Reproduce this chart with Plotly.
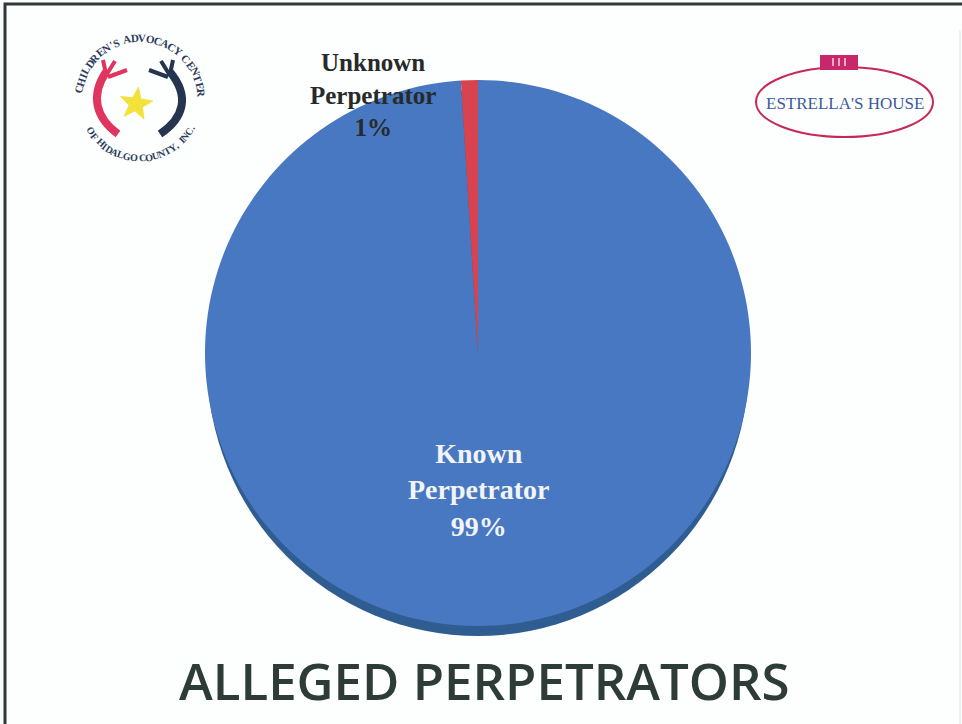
import math
import plotly.graph_objects as go

# Pie data
labels = ["Known Perpetrator", "Unknown Perpetrator"]
values = [99, 1]
slice_colors = ["#4878c1", "#d8434f"]

title_text = "ALLEGED PERPETRATORS"
logo_top_text = "CHILDREN'S ADVOCACY CENTER"
logo_bottom_text = "OF HIDALGO COUNTY, INC."
house_text = "ESTRELLA'S HOUSE"

W, H = 962, 724
cx, cy, r = 478, 353, 273

total = sum(values)
pcts = [round(100 * v / total) for v in values]

fig = go.Figure()

# pixel-space helper axis for decoration
fig.add_trace(go.Scatter(x=[0, W], y=[0, H], mode="markers",
                         marker=dict(opacity=0), hoverinfo="skip", showlegend=False))

fig.add_trace(go.Pie(
    labels=labels, values=values, sort=False, direction="clockwise", rotation=0,
    marker=dict(colors=slice_colors, line=dict(width=0)),
    textinfo="none", hoverinfo="label+percent", showlegend=False,
    domain=dict(x=[(cx - r) / W, (cx + r) / W], y=[1 - (cy + r) / H, 1 - (cy - r) / H]),
))

shapes = []
annotations = []

# darker rim under the pie for depth
shapes.append(dict(type="circle", xref="x", yref="y", layer="below",
                   x0=cx - r + 2, x1=cx + r - 2, y0=cy - r + 10, y1=cy + r + 10,
                   fillcolor="#2f5d92", line=dict(width=0)))

# slide border
shapes.append(dict(type="path", xref="x", yref="y", path=f"M 5 {H} L 5 4 L {W} 4",
                   line=dict(color="#2c3a38", width=3)))
shapes.append(dict(type="line", xref="x", yref="y", x0=960, x1=960, y0=30, y1=H,
                   line=dict(color="#dde1e1", width=1)))

# slice labels
annotations.append(dict(
    x=478, y=490, xref="x", yref="y", showarrow=False,
    text=f"<b>{labels[0].replace(' ', '<br>')}<br>{pcts[0]}%</b>",
    font=dict(family="Liberation Serif", size=28, color="#f2f4f8"), align="center"))
annotations.append(dict(
    x=373, y=95, xref="x", yref="y", showarrow=False,
    text=f"<b>{labels[1].replace(' ', '<br>')}<br>{pcts[1]}%</b>",
    font=dict(family="Liberation Serif", size=25, color="#262a2a"), align="center"))

# title
annotations.append(dict(
    x=484, y=680, xref="x", yref="y", showarrow=False, text=title_text,
    font=dict(family="Open Sans", size=51, weight=600, color="#2e3c38")))


def char_weight(ch):
    if ch in " '.,":
        return 0.45
    if ch in "I":
        return 0.6
    return 1.0


def arc_text(text, a_start, a_end, radius, upright_bottom, size):
    ws = [char_weight(c) for c in text]
    steps = [(ws[i] + ws[i + 1]) / 2 for i in range(len(text) - 1)]
    tot = sum(steps)
    acc = 0.0
    for i, ch in enumerate(text):
        th = a_start + (a_end - a_start) * acc / tot
        if i < len(steps):
            acc += steps[i]
        if ch == " ":
            continue
        t = math.radians(th)
        annotations.append(dict(
            x=lx + radius * math.cos(t), y=ly - radius * math.sin(t),
            xref="x", yref="y", showarrow=False, text=f"<b>{ch}</b>",
            textangle=(270 - th) if upright_bottom else (90 - th),
            font=dict(family="Liberation Serif", size=size, color=navy)))


# ---- left logo: circular lettering, two figures and a star ----
lx, ly = 140, 100
navy = "#2b3b5c"
arc_text(logo_top_text, 170, 6, 62, False, 11)
arc_text(logo_bottom_text, 212, 332, 58, True, 10)

# red figure
shapes.append(dict(type="path", xref="x", yref="y",
                   path="M 118 134 C 96 118, 90 96, 106 72",
                   line=dict(color="#e0355f", width=8)))
shapes.append(dict(type="path", xref="x", yref="y",
                   path="M 106 74 L 103 60 M 107 74 L 115 61 M 108 77 L 127 70",
                   line=dict(color="#e0355f", width=4)))
# navy figure
shapes.append(dict(type="path", xref="x", yref="y",
                   path="M 160 134 C 184 118, 190 96, 170 72",
                   line=dict(color="#25344f", width=8)))
shapes.append(dict(type="path", xref="x", yref="y",
                   path="M 170 74 L 173 60 M 169 74 L 161 61 M 168 77 L 149 70",
                   line=dict(color="#25344f", width=4)))
# star
pts = []
for k in range(10):
    rad = 17 if k % 2 == 0 else 7
    ang = math.radians(-90 + 36 * k + 8)
    pts.append((136 + rad * math.cos(ang), 104 + rad * math.sin(ang)))
star_path = "M " + " L ".join(f"{px:.1f} {py:.1f}" for px, py in pts) + " Z"
shapes.append(dict(type="path", xref="x", yref="y", path=star_path,
                   fillcolor="#f3e23c", line=dict(color="#f3e23c", width=1)))

# ---- right logo: ellipse, roof and name ----
shapes.append(dict(type="circle", xref="x", yref="y", x0=756, x1=933, y0=67, y1=137,
                   line=dict(color="#c42a55", width=2), fillcolor="rgba(0,0,0,0)"))
shapes.append(dict(type="rect", xref="x", yref="y", x0=820, x1=858, y0=55, y1=70,
                   fillcolor="#c8286a", line=dict(width=0)))
for px in (833, 839, 845):
    shapes.append(dict(type="line", xref="x", yref="y", x0=px, x1=px, y0=58, y1=66,
                       line=dict(color="#f4d6e2", width=1.5)))
annotations.append(dict(x=845, y=103, xref="x", yref="y", showarrow=False, text=house_text,
                        font=dict(family="Liberation Serif", size=17, color="#3b5a9c")))

fig.update_layout(
    width=W, height=H, margin=dict(l=0, r=0, t=0, b=0),
    paper_bgcolor="#fdfefe", plot_bgcolor="rgba(0,0,0,0)",
    xaxis=dict(range=[0, W], visible=False, fixedrange=True),
    yaxis=dict(range=[H, 0], visible=False, fixedrange=True),
    shapes=shapes, annotations=annotations, showlegend=False,
)

fig.write_html("out.html")
